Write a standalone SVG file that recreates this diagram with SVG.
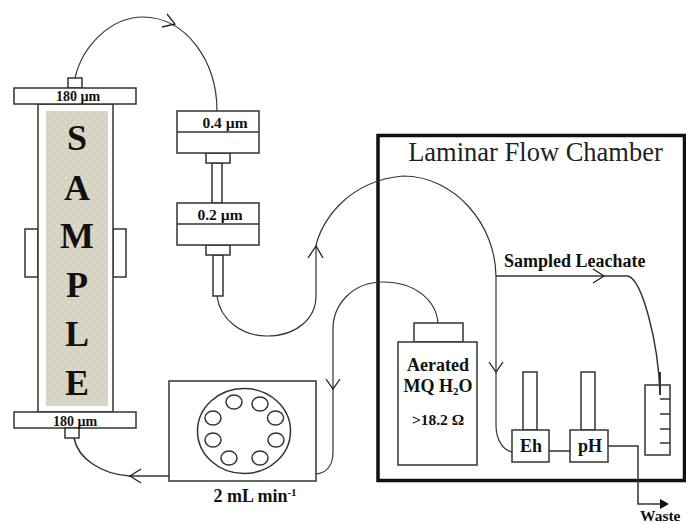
<svg xmlns="http://www.w3.org/2000/svg" width="686" height="524" viewBox="0 0 686 524">
<style>
.s{fill:#fff;stroke:#333;stroke-width:1.5}
.n{fill:none;stroke:#333;stroke-width:1.2}
.a{fill:none;stroke:#222;stroke-width:1.3}
text{font-family:"Liberation Serif","Times New Roman",serif;fill:#111;font-weight:bold;text-anchor:middle}
.big{font-size:36px}
.sm{font-size:14px}
.fl{font-size:15.5px}
.md{font-size:18px}
</style>
<defs>
<pattern id="dots" width="8" height="8" patternUnits="userSpaceOnUse">
<rect width="8" height="8" fill="#d6d3c3"/>
<circle cx="2" cy="2" r="0.9" fill="#e6e4d8"/>
<circle cx="6" cy="6" r="0.9" fill="#e6e4d8"/>
</pattern>
</defs>
<rect width="686" height="524" fill="#fff"/>
<g id="chamber">
<rect x="378" y="135.500" width="306.500" height="345" fill="none" stroke="#111" stroke-width="3.500"/>
<text x="535.500" y="161" font-size="26.500" style="font-weight:normal;fill:#222">Laminar Flow Chamber</text>
</g>
<g id="connectors">
<path class="n" d="M75 78C82 47 110 17 143 17C185 17 217 60 217 111"/>
<path class="a" d="M167 14L175 24L162 27"/>
<path class="n" d="M217 296C220 320 242 336 267 336C297 336 316 318 316 296L316 246C320 225 345 181 403 176C455 176 496 225 496 277L496 425C496 440 503 450 512 452"/>
<path class="a" d="M308 258L316 246L323 258"/>
<path class="a" d="M489 362L496 372L503 362"/>
<path class="n" style="stroke-width:1.500" d="M496 276L628 276C642 280 658 340 660 393"/>
<path class="a" d="M593 269L604 276L593 283"/>
<path class="n" style="stroke-width:2" d="M660 372L660 395"/>
<path class="n" d="M438 323C436 300 415 282 383 282C352 282 333 305 333 329L333 452C333 466 326 473 316 474"/>
<path class="a" d="M326 379L333 389L340 379"/>
<path class="n" style="stroke-width:1.500" d="M169 476L130 476C100 474 78 458 74 438"/>
<path class="a" d="M141 469L130 476L141 483"/>
<path class="n" style="stroke-width:1.500" d="M549 451L570 451M608 446L638 446L638 504L660 504"/>
<path d="M660 499L669 504L660 509Z" fill="#111"/>
</g>
<g id="sample-column">
<rect class="s" x="25" y="229" width="13" height="48"/>
<rect class="s" x="113" y="229" width="13" height="48"/>
<rect class="s" x="38" y="104" width="75" height="308"/>
<rect x="46" y="111" width="62" height="295" fill="url(#dots)"/>
<rect class="s" x="68" y="78" width="14" height="10"/>
<rect class="s" x="14" y="88" width="122" height="16"/>
<text class="sm" x="78" y="101">180 µm</text>
<rect class="s" x="14" y="412" width="122" height="16"/>
<rect class="s" x="65" y="428" width="14" height="10"/>
<text class="sm" x="75" y="426">180 µm</text>
<text class="big" x="77" y="150">S</text>
<text class="big" x="77" y="200">A</text>
<text class="big" x="77" y="248">M</text>
<text class="big" x="77" y="297">P</text>
<text class="big" x="77" y="346">L</text>
<text class="big" x="77" y="395">E</text>
</g>
<g id="filter-04">
<rect class="s" x="212" y="163" width="10" height="40"/>
<rect class="s" x="206" y="153" width="24" height="10"/>
<rect class="s" x="177" y="111" width="82" height="42"/>
<path class="s" d="M177 132H259"/>
<text class="fl" x="225" y="128">0.4 µm</text>
</g>
<g id="filter-02">
<rect class="s" x="213" y="255" width="10" height="41"/>
<rect class="s" x="206" y="245" width="24" height="10"/>
<rect class="s" x="177" y="203" width="82" height="42"/>
<path class="s" d="M177 224H259"/>
<text class="fl" x="220" y="220">0.2 µm</text>
</g>
<g id="pump">
<rect class="s" x="169" y="381" width="147" height="100"/>
<ellipse class="s" cx="244" cy="431" rx="46.500" ry="42.500"/>
<g class="s">
<ellipse cx="234" cy="402" rx="8" ry="7"/>
<ellipse cx="260" cy="404" rx="8" ry="7"/>
<ellipse cx="275.500" cy="418" rx="8" ry="7"/>
<ellipse cx="276" cy="440" rx="8" ry="7"/>
<ellipse cx="260" cy="458" rx="8" ry="7"/>
<ellipse cx="229" cy="458" rx="8" ry="7"/>
<ellipse cx="213" cy="440" rx="8" ry="7"/>
<ellipse cx="213" cy="418" rx="8" ry="7"/>
</g>
<text x="255" y="502" font-size="18">2 mL min<tspan font-size="11" dy="-6">-1</tspan></text>
</g>
<g id="water-bottle">
<rect class="s" x="414" y="323" width="49" height="19"/>
<rect class="s" x="398" y="342" width="79" height="123"/>
<text class="md" x="438" y="371">Aerated</text>
<text class="md" x="438" y="392">MQ H<tspan font-size="11" dy="3">2</tspan><tspan dy="-3">O</tspan></text>
<text x="438" y="425" font-size="15.500">&gt;18.2 Ω</text>
</g>
<g id="eh-probe">
<rect class="s" x="523" y="372" width="14" height="58"/>
<rect class="s" x="512" y="430" width="37" height="32"/>
<text class="md" x="531" y="452">Eh</text>
</g>
<g id="ph-probe">
<rect class="s" x="581" y="372" width="14" height="58"/>
<rect class="s" x="570" y="430" width="38" height="32"/>
<text class="md" x="590" y="452">pH</text>
</g>
<g id="cylinder">
<rect class="s" x="645" y="385" width="25" height="70" style="fill:none"/>
<path class="s" d="M660 399H670M660 414H670M660 429H670M660 443H670"/>
</g>
<text x="504" y="267" font-size="18" style="text-anchor:start">Sampled Leachate</text>
<text x="640" y="521" font-size="15.500" style="text-anchor:start">Waste</text>
</svg>
